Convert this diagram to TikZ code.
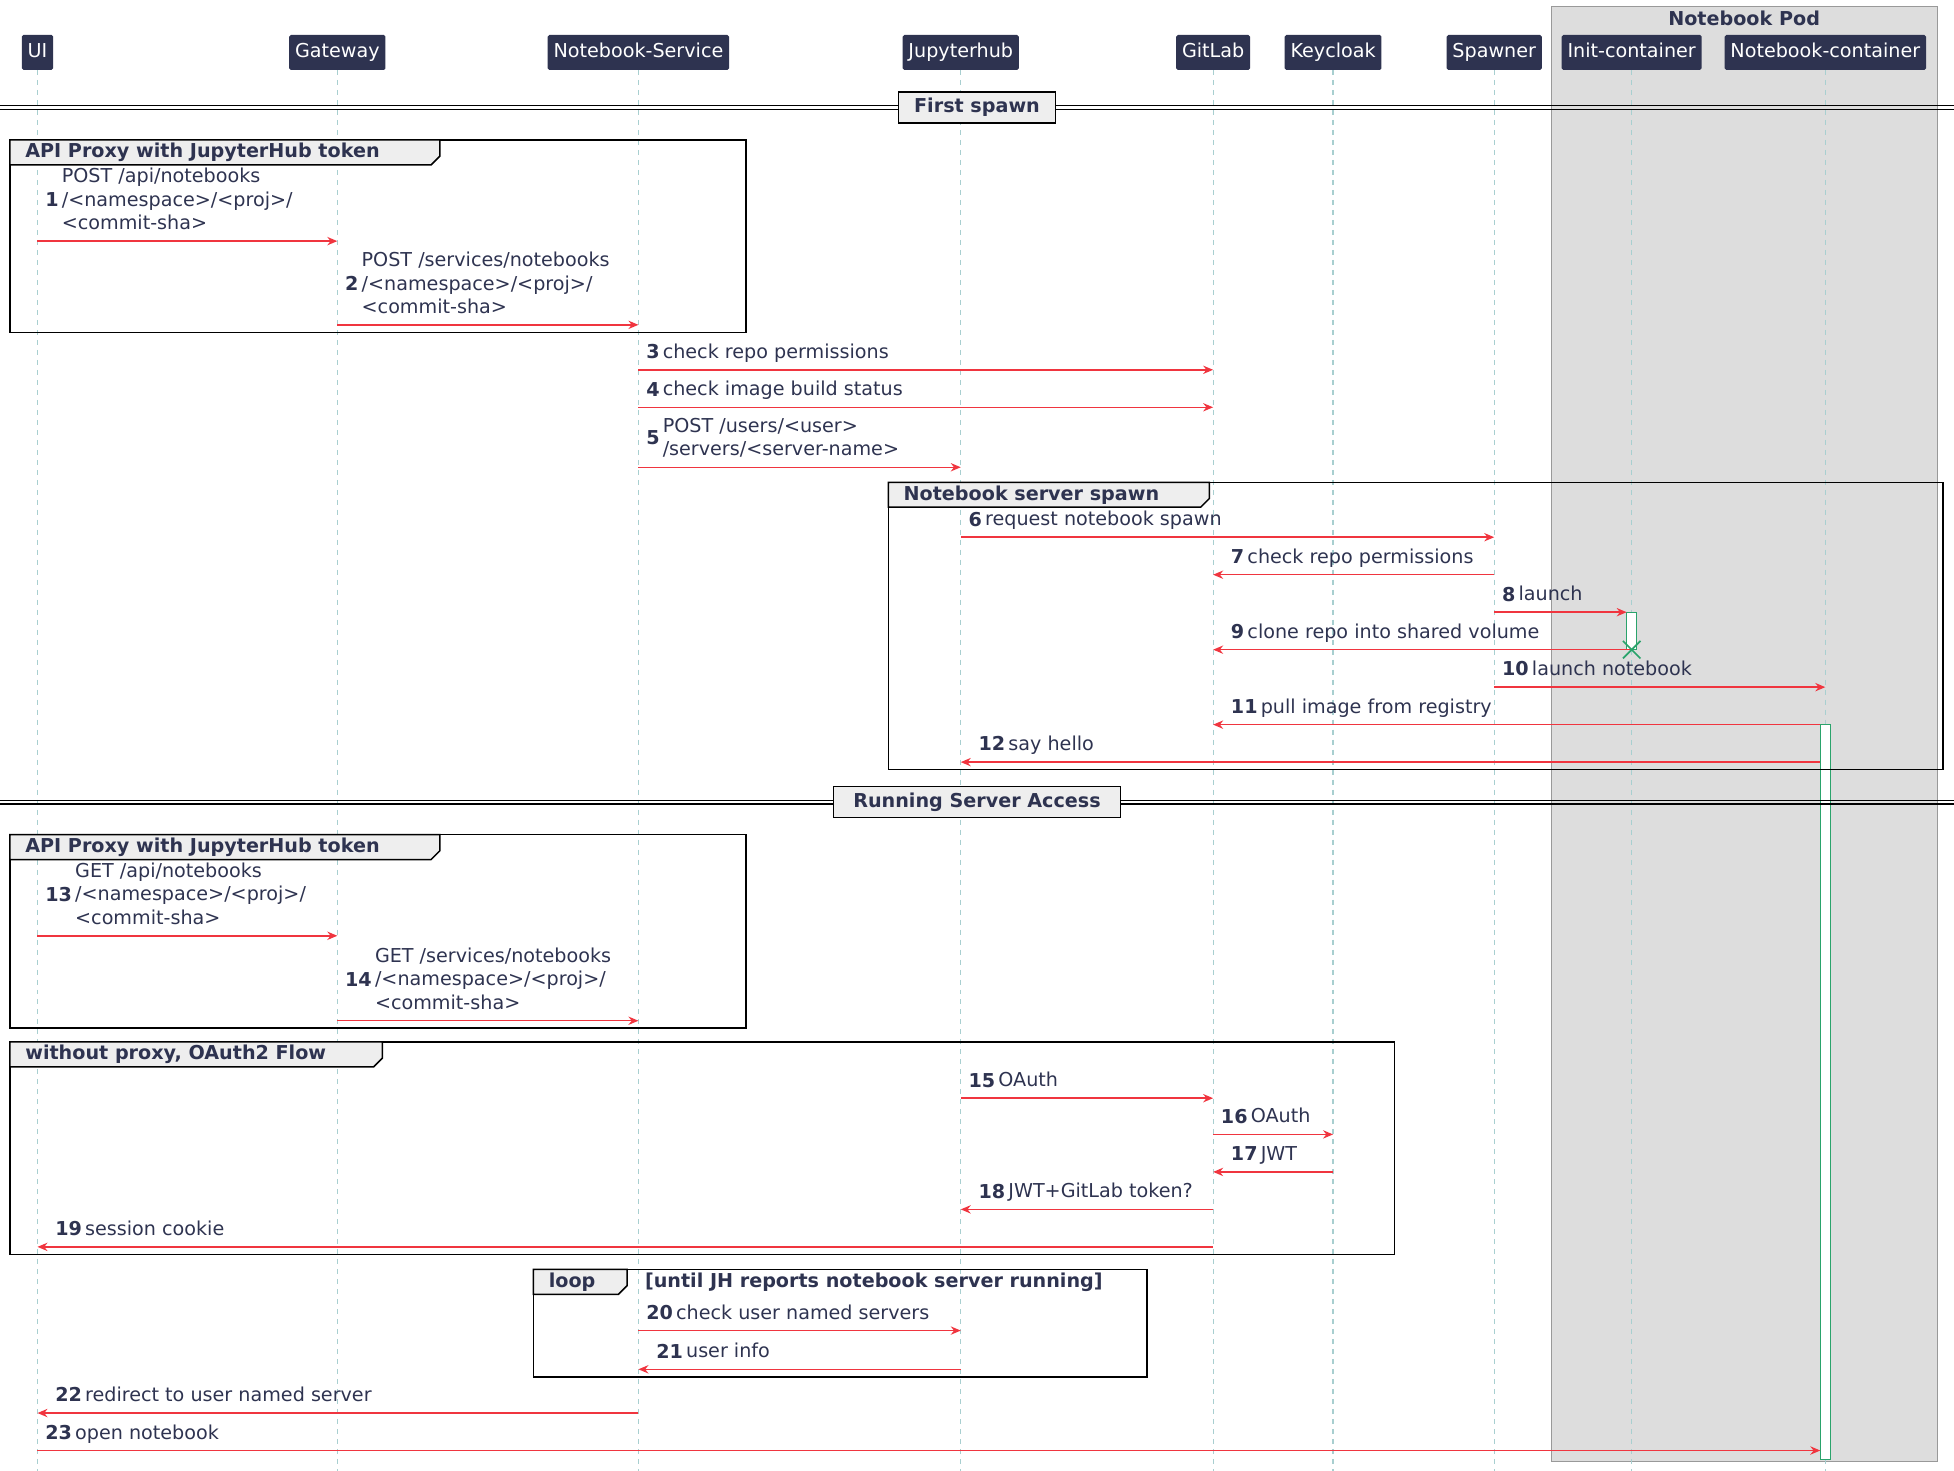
\documentclass[tikz,border=0pt]{standalone}
\usepackage{fontspec}
\setmainfont{DejaVu Sans}
\usetikzlibrary{arrows.meta}
\definecolor{navy}{HTML}{2E3350}
\definecolor{arr}{HTML}{F0353F}
\definecolor{life}{HTML}{A8CFD0}
\definecolor{pod}{HTML}{DDDDDD}
\definecolor{tab}{HTML}{EEEEEE}
\definecolor{actv}{HTML}{2AA36B}
\tikzset{
  part/.style={fill=navy,text=white,minimum height=21pt,inner xsep=3.5pt,text height=8.5pt,text depth=2.5pt,rounded corners=1pt,font=\fontsize{11.5}{13}\selectfont},
  msgline/.style={draw=arr,line width=0.9pt,-{Stealth[length=6pt,width=5pt]}},
  lifeline/.style={draw=life,line width=0.7pt,dash pattern=on 3pt off 3pt},
  frameline/.style={draw=black,line width=0.9pt},
  lbl/.style={anchor=south west,inner sep=0pt,text=navy,font=\fontsize{11.5}{14}\selectfont},
  actbox/.style={draw=actv,fill=white,line width=0.6pt}
}
\newcommand{\msgR}[5]{% y, x1, x2, num, text
  \coordinate (m#4a) at (#2,#1); \coordinate (m#4b) at (#3,#1);
  \draw[msgline] (m#4a) -- (m#4b);
  \node[lbl] (t#4) at ([xshift=4.5pt,yshift=2.5pt]m#4a) {\textbf{#4}\,\begin{tabular}[c]{@{}l@{}}#5\end{tabular}};}
\newcommand{\msgL}[5]{% y, xfrom, xto, num, text
  \coordinate (m#4a) at (#2,#1); \coordinate (m#4b) at (#3,#1);
  \draw[msgline] (m#4a) -- (m#4b);
  \node[lbl] (t#4) at ([xshift=10.5pt,yshift=2.5pt]m#4b) {\textbf{#4}\,\begin{tabular}[c]{@{}l@{}}#5\end{tabular}};}
\newcommand{\grp}[6]{% x1,y1,x2,y2,tabx,label
  \draw[frameline] (#1,#2) rectangle (#3,#4);
  \draw[frameline,fill=tab] (#1,#2) -- (#5,#2) -- (#5,#2+13) -- (#5-7,#2+20) -- (#1,#2+20) -- cycle;
  \node[anchor=west,inner sep=0pt,text=navy,font=\bfseries\fontsize{11.5}{13}\selectfont] at (#1+12,#2+10) {#6};}
\newcommand{\divider}[4]{% y, x1, x2, label
  \draw[line width=0.7pt] (0,#1-1.5) -- (1564,#1-1.5);
  \draw[line width=0.7pt] (0,#1+1.5) -- (1564,#1+1.5);
  \node[draw,line width=0.9pt,fill=tab,minimum width={(#3-#2)*0.75pt},minimum height=18.5pt,inner sep=0pt,text=navy,font=\bfseries\fontsize{11.5}{13}\selectfont] at ({(#2+#3)/2},#1) {#4};}
\begin{document}
\begin{tikzpicture}[x=0.75pt,y=-0.75pt]
\useasboundingbox (0,0) rectangle (1564,1177);
% pod box
\draw[fill=pod,draw=gray!80,line width=0.6pt] (1242,5) rectangle (1551,1170);
\node[text=navy,font=\bfseries\fontsize{11.5}{13}\selectfont] (podt) at (1396,15) {Notebook Pod};
% lifelines
\foreach \x in {30,270,511,769,971,1067,1196,1306,1461}
  \draw[lifeline] (\x,56) -- (\x,1177);
% participants
\node[part] (UI) at (30,42) {UI};
\node[part] (GW) at (270,42) {Gateway};
\node[part] (NS) at (511,42) {Notebook-Service};
\node[part] (JH) at (769,42) {Jupyterhub};
\node[part] (GL) at (971,42) {GitLab};
\node[part] (KC) at (1067,42) {Keycloak};
\node[part] (SP) at (1196,42) {Spawner};
\node[part] (IC) at (1306,42) {Init-container};
\node[part] (NC) at (1461,42) {Notebook-container};
% activations
\draw[actbox] (1302,490) rectangle (1310,520);
\draw[actbox] (1457,580) rectangle (1465,1168);
% dividers
\divider{86}{719}{845}{First spawn}
\divider{642}{667}{897}{Running Server Access}
% groups
\grp{8}{112}{597}{266}{352}{API Proxy with JupyterHub token}
\grp{711}{386}{1555}{616}{968}{Notebook server spawn}
\grp{8}{668}{597}{823}{352}{API Proxy with JupyterHub token}
\grp{8}{834}{1116}{1004}{306}{without proxy, OAuth2 Flow}
\grp{427}{1016}{918}{1102}{502}{loop}
\node[anchor=west,inner sep=0pt,text=navy,font=\bfseries\fontsize{11.5}{13}\selectfont] (loopc) at (516,1026) {[until JH reports notebook server running]};
% messages
\msgR{193}{30}{270}{1}{POST /api/notebooks\\/<namespace>/<proj>/\\<commit-sha>}
\msgR{260}{270}{511}{2}{POST /services/notebooks\\/<namespace>/<proj>/\\<commit-sha>}
\msgR{296}{511}{971}{3}{check repo permissions}
\msgR{326}{511}{971}{4}{check image build status}
\msgR{374}{511}{769}{5}{POST /users/<user>\\/servers/<server-name>}
\msgR{430}{769}{1196}{6}{request notebook spawn}
\msgL{460}{1196}{971}{7}{check repo permissions}
\msgR{490}{1196}{1302}{8}{launch}
\msgL{520}{1306}{971}{9}{clone repo into shared volume}
\msgR{550}{1196}{1461}{10}{launch notebook}
\msgL{580}{1457}{971}{11}{pull image from registry}
\msgL{610}{1457}{769}{12}{say hello}
\msgR{749}{30}{270}{13}{GET /api/notebooks\\/<namespace>/<proj>/\\<commit-sha>}
\msgR{817}{270}{511}{14}{GET /services/notebooks\\/<namespace>/<proj>/\\<commit-sha>}
\msgR{879}{769}{971}{15}{OAuth}
\msgR{908}{971}{1067}{16}{OAuth}
\msgL{938}{1067}{971}{17}{JWT}
\msgL{968}{971}{769}{18}{JWT+GitLab token?}
\msgL{998}{971}{30}{19}{session cookie}
\msgR{1065}{511}{769}{20}{check user named servers}
\msgL{1096}{769}{511}{21}{user info}
\msgL{1131}{511}{30}{22}{redirect to user named server}
\msgR{1161}{30}{1457}{23}{open notebook}
% destroy
\draw[actv,line width=1pt] (1299,513) -- (1313,527) (1299,527) -- (1313,513);
\end{tikzpicture}
\end{document}
